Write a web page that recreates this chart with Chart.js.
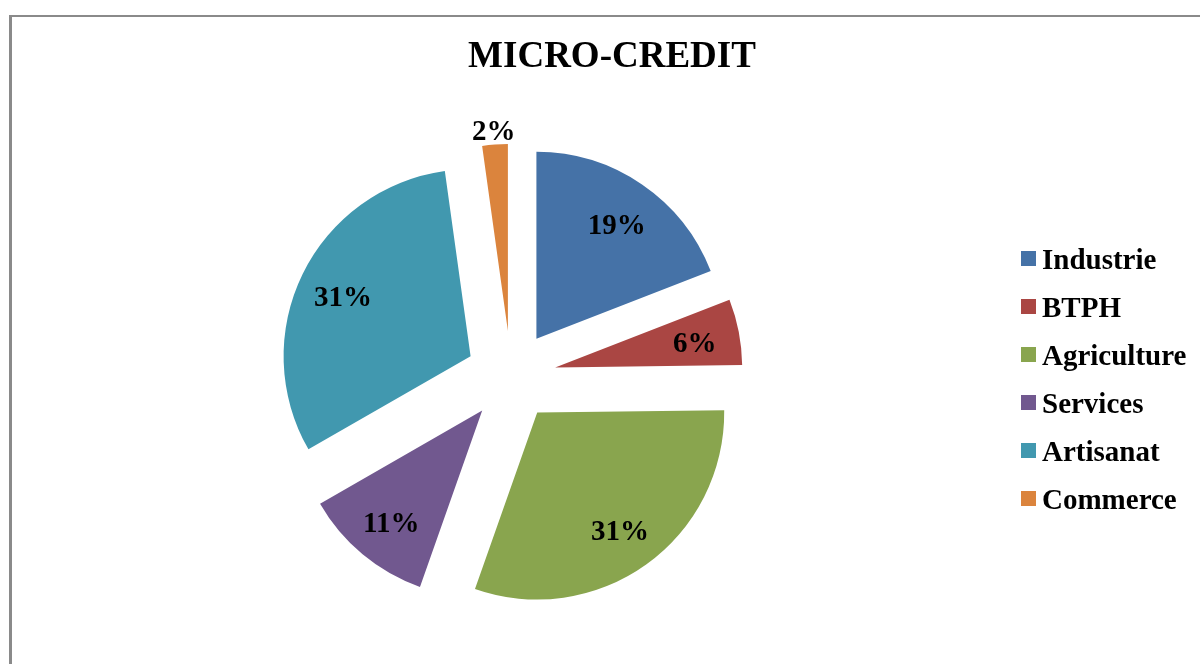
<!DOCTYPE html>
<html>
<head>
<meta charset="utf-8">
<script src="https://cdn.jsdelivr.net/npm/chart.js@4/dist/chart.umd.min.js"></script>
<style>
  html, body { margin: 0; padding: 0; background: #ffffff; }
  #wrap { width: 1200px; height: 664px; }
</style>
</head>
<body>
<div id="wrap"><canvas id="c" width="1200" height="664"></canvas></div>
<script>
const categories = ['Industrie', 'BTPH', 'Agriculture', 'Services', 'Artisanat', 'Commerce'];
const shares = [19.1, 5.7, 30.6, 11.3, 31.1, 2.2];
const sliceColors = ['#4572A7', '#AA4643', '#89A54E', '#71588F', '#4198AF', '#DB843D'];
const chartTitle = 'MICRO-CREDIT';

const EXPLODE = 45;
const SERIF = '"Liberation Serif", "Times New Roman", serif';

const explodePlugin = {
  id: 'explode',
  afterDatasetsUpdate(chart) {
    const meta = chart.getDatasetMeta(0);
    meta.data.forEach(arc => {
      const mid = (arc.startAngle + arc.endAngle) / 2;
      arc.x += Math.cos(mid) * EXPLODE;
      arc.y += Math.sin(mid) * EXPLODE;
    });
  }
};

const decorPlugin = {
  id: 'decor',
  beforeDraw(chart) {
    const ctx = chart.ctx;
    ctx.save();
    ctx.fillStyle = '#ffffff';
    ctx.fillRect(0, 0, chart.width, chart.height);
    // frame
    ctx.fillStyle = '#8a8a8a';
    ctx.fillRect(9, 15, chart.width - 9, 2);
    ctx.fillRect(9, 15, 3, chart.height - 15);
    // title
    ctx.fillStyle = '#000000';
    ctx.font = 'bold 37px ' + SERIF;
    ctx.textAlign = 'center';
    ctx.textBaseline = 'alphabetic';
    ctx.fillText(chartTitle, 612, 67);
    // legend
    ctx.font = 'bold 29px ' + SERIF;
    ctx.textAlign = 'left';
    categories.forEach((name, i) => {
      const base = 269 + i * 48;
      ctx.fillStyle = sliceColors[i];
      ctx.fillRect(1021, base - 18, 15, 15);
      ctx.fillStyle = '#000000';
      ctx.fillText(name, 1042, base);
    });
    ctx.restore();
  },
  afterDatasetsDraw(chart) {
    const ctx = chart.ctx;
    const meta = chart.getDatasetMeta(0);
    const total = shares.reduce((a, b) => a + b, 0);
    ctx.save();
    ctx.fillStyle = '#000000';
    ctx.font = 'bold 29px ' + SERIF;
    ctx.textAlign = 'center';
    ctx.textBaseline = 'alphabetic';
    meta.data.forEach((arc, i) => {
      const pct = shares[i] / total * 100;
      const mid = (arc.startAngle + arc.endAngle) / 2;
      const r = pct < 4 ? arc.outerRadius + 17 : arc.outerRadius * 0.76;
      const x = arc.x + Math.cos(mid) * r;
      const y = arc.y + Math.sin(mid) * r;
      ctx.fillText(Math.round(pct) + '%', x, y + 12);
    });
    ctx.restore();
  }
};

new Chart(document.getElementById('c'), {
  type: 'pie',
  data: {
    labels: categories,
    datasets: [{
      data: shares,
      backgroundColor: sliceColors,
      borderWidth: 0,
      offset: 0
    }]
  },
  options: {
    responsive: false,
    animation: false,
    layout: { padding: { left: 324, right: 502, top: 189, bottom: 101 } },
    plugins: {
      legend: { display: false },
      title: { display: false },
      tooltip: { enabled: false }
    }
  },
  plugins: [explodePlugin, decorPlugin]
});
</script>
</body>
</html>
